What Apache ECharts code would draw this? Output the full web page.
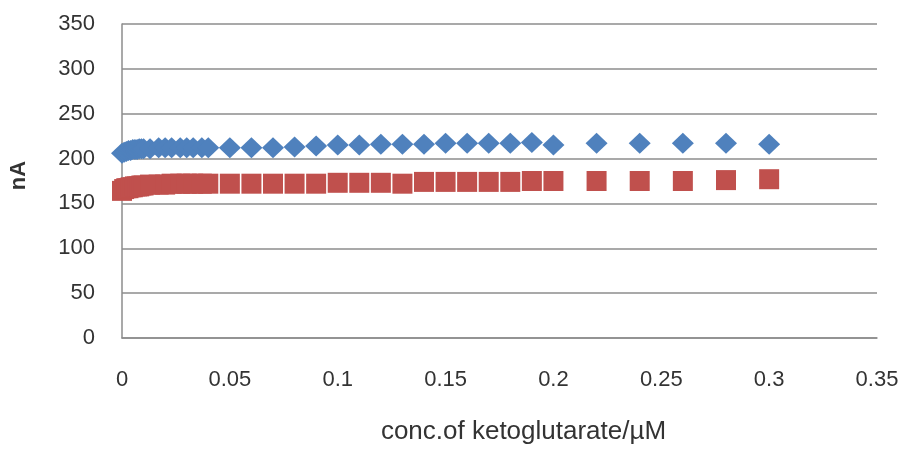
<!DOCTYPE html>
<html>
<head>
<meta charset="utf-8">
<script src="https://cdn.jsdelivr.net/npm/echarts@6/dist/echarts.min.js"></script>
<style>
  html, body { margin: 0; padding: 0; background: #fff; }
  #chart { width: 903px; height: 450px; }
</style>
</head>
<body>
<div id="chart"></div>
<script>
// Concentration of ketoglutarate (µM)
const conc = [
  0, 0.001, 0.002, 0.003, 0.004, 0.005, 0.006, 0.007, 0.008, 0.009, 0.01,
  0.013, 0.017, 0.02, 0.023, 0.027, 0.03, 0.033, 0.037, 0.04,
  0.05, 0.06, 0.07, 0.08, 0.09, 0.1, 0.11, 0.12, 0.13, 0.14, 0.15,
  0.16, 0.17, 0.18, 0.19, 0.2, 0.22, 0.24, 0.26, 0.28, 0.3
];
// Current (nA), upper series (diamonds)
const currentA = [
  206, 207, 208, 209, 209, 210, 210, 210, 211, 211, 211,
  211, 212, 212, 212, 212, 212, 212, 212, 212,
  212, 212, 212, 213, 214, 215, 215, 216, 216, 216, 217,
  217, 217, 217, 218, 215, 217, 217, 217, 217, 216
];
// Current (nA), lower series (squares)
const currentB = [
  164, 166, 167, 167, 168, 168, 169, 169, 169, 170, 170,
  171, 171, 171, 172, 172, 172, 172, 172, 172,
  172, 172, 172, 172, 172, 173, 173, 173, 172, 174, 174,
  174, 174, 174, 175, 175, 175, 175, 175, 176, 177
];
const yTicks = [0, 50, 100, 150, 200, 250, 300, 350];
const xTicks = [0, 0.05, 0.1, 0.15, 0.2, 0.25, 0.3, 0.35];

const pairs = (xs, ys) => xs.map((x, i) => [x, ys[i]]);

const chart = echarts.init(document.getElementById('chart'), null, { renderer: 'canvas' });
const font = 'Liberation Sans, Arial, sans-serif';

chart.setOption({
  backgroundColor: '#ffffff',
  animation: false,
  grid: { left: 120, right: 26, top: 24, bottom: 106, containLabel: false },
  xAxis: {
    type: 'value',
    min: xTicks[0],
    max: xTicks[xTicks.length - 1],
    interval: 0.05,
    name: 'conc.of ketoglutarate/µM',
    nameLocation: 'middle',
    nameGap: 81,
    nameTextStyle: { fontFamily: font, fontSize: 26, color: '#333', padding: [0, 0, 0, 48] },
    axisLine: { show: true, lineStyle: { color: '#8c8c8c', width: 1.5 } },
    axisTick: { show: false },
    splitLine: { show: false },
    axisLabel: { fontFamily: font, fontSize: 22, color: '#333', margin: 31 }
  },
  yAxis: {
    type: 'value',
    min: yTicks[0],
    max: yTicks[yTicks.length - 1],
    interval: 50,
    name: 'nA',
    nameLocation: 'middle',
    nameGap: 92,
    nameRotate: 90,
    nameTextStyle: { fontFamily: font, fontSize: 22, fontWeight: 'bold', color: '#333', padding: [0, 0, 0, 11] },
    axisLine: { show: true, lineStyle: { color: '#8c8c8c', width: 1.5 } },
    axisTick: { show: false },
    splitLine: { show: true, lineStyle: { color: '#8c8c8c', width: 1.5 } },
    axisLabel: { fontFamily: font, fontSize: 22, color: '#333', margin: 27 }
  },
  series: [
    {
      type: 'scatter',
      data: pairs(conc, currentB),
      symbol: 'rect',
      symbolSize: 20,
      clip: false,
      itemStyle: { color: '#C0504D', opacity: 1 }
    },
    {
      type: 'scatter',
      data: pairs(conc, currentA),
      symbol: 'diamond',
      symbolSize: [22, 21],
      clip: false,
      itemStyle: { color: '#4F81BD', opacity: 1 }
    }
  ]
});
</script>
</body>
</html>
